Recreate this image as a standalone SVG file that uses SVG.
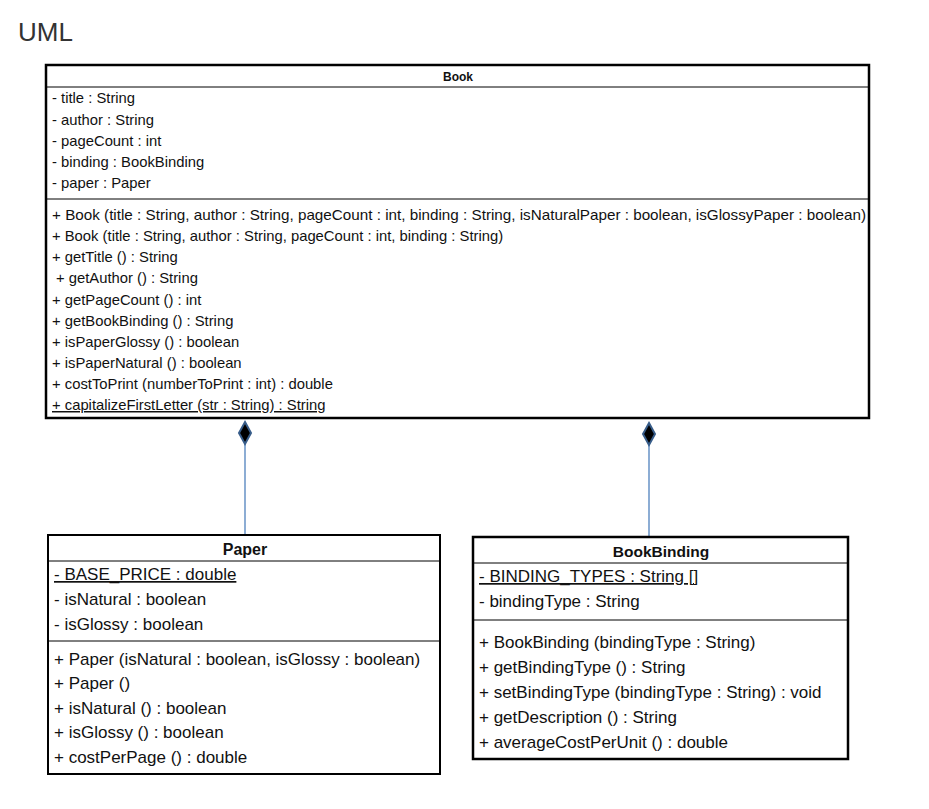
<svg xmlns="http://www.w3.org/2000/svg" width="929" height="809" viewBox="0 0 929 809">
<style>
text{font-family:"Liberation Sans",Arial,sans-serif;fill:#111}
.s{font-size:14.8px}
.m{font-size:17px}
.h{font-weight:bold;text-anchor:middle}
.u{text-decoration:underline}
.box{fill:#fff;stroke:#000}
.ln{stroke:#000;stroke-width:1}
.conn{stroke:#4f81bd;stroke-width:1.3;fill:none}
.dia{fill:#000;stroke:#385d8a;stroke-width:2}
</style>
<rect width="929" height="809" fill="#fff"/>
<text x="18" y="41" style="font-size:26px;fill:#333">UML</text>
<g id="connectors">
<line class="conn" x1="245" y1="444" x2="245" y2="535"/>
<polygon class="dia" points="245,422 251,433 245,444 239,433"/>
<line class="conn" x1="649" y1="445" x2="649" y2="537"/>
<polygon class="dia" points="649,423 655,434 649,445 643,434"/>
</g>
<g id="Book">
<rect class="box" x="46" y="65" width="823" height="353" stroke-width="2.5"/>
<line class="ln" x1="46" y1="87" x2="869" y2="87"/>
<line class="ln" x1="46" y1="199" x2="869" y2="199"/>
<text class="h" x="458" y="81" style="font-size:12px">Book</text>
<text class="s" x="52" y="103">- title : String</text>
<text class="s" x="52" y="125">- author : String</text>
<text class="s" x="52" y="146">- pageCount : int</text>
<text class="s" x="52" y="167">- binding : BookBinding</text>
<text class="s" x="52" y="188">- paper : Paper</text>
<text class="s" x="52" y="220" textLength="814" lengthAdjust="spacingAndGlyphs">+ Book (title : String, author : String, pageCount : int, binding : String,  isNaturalPaper : boolean, isGlossyPaper : boolean)</text>
<text class="s" x="52" y="241">+ Book (title : String, author : String, pageCount : int, binding : String)</text>
<text class="s" x="52" y="262">+ getTitle () : String</text>
<text class="s" x="56" y="283">+ getAuthor () : String</text>
<text class="s" x="52" y="305">+ getPageCount () : int</text>
<text class="s" x="52" y="326">+ getBookBinding () : String</text>
<text class="s" x="52" y="347">+ isPaperGlossy () : boolean</text>
<text class="s" x="52" y="368">+ isPaperNatural () : boolean</text>
<text class="s" x="52" y="389">+ costToPrint (numberToPrint : int) : double</text>
<text class="s u" x="52" y="410">+ capitalizeFirstLetter (str : String) : String</text>
</g>
<g id="Paper">
<rect class="box" x="48" y="535" width="392" height="239" stroke-width="2"/>
<line class="ln" x1="48" y1="561" x2="440" y2="561"/>
<line class="ln" x1="48" y1="641" x2="440" y2="641"/>
<text class="h" x="245" y="555" style="font-size:16px">Paper</text>
<text class="m u" x="54" y="580">- BASE_PRICE : double</text>
<text class="m" x="54" y="605">- isNatural : boolean</text>
<text class="m" x="54" y="630">- isGlossy : boolean</text>
<text class="m" x="54" y="665">+ Paper (isNatural : boolean, isGlossy : boolean)</text>
<text class="m" x="54" y="689">+ Paper ()</text>
<text class="m" x="54" y="714">+ isNatural () : boolean</text>
<text class="m" x="54" y="738">+ isGlossy () : boolean</text>
<text class="m" x="54" y="763">+ costPerPage () : double</text>
</g>
<g id="BookBinding">
<rect class="box" x="473" y="537" width="375" height="222" stroke-width="2.5"/>
<line class="ln" x1="473" y1="563" x2="848" y2="563"/>
<line class="ln" x1="473" y1="620" x2="848" y2="620"/>
<text class="h" x="661" y="557" style="font-size:15.5px">BookBinding</text>
<text class="m u" x="479" y="582">- BINDING_TYPES : String []</text>
<text class="m" x="479" y="607">- bindingType : String</text>
<text class="m" x="479" y="648">+ BookBinding (bindingType : String)</text>
<text class="m" x="479" y="673">+ getBindingType () : String</text>
<text class="m" x="479" y="698">+ setBindingType (bindingType : String) : void</text>
<text class="m" x="479" y="723">+ getDescription () : String</text>
<text class="m" x="479" y="748">+ averageCostPerUnit () : double</text>
</g>
</svg>
